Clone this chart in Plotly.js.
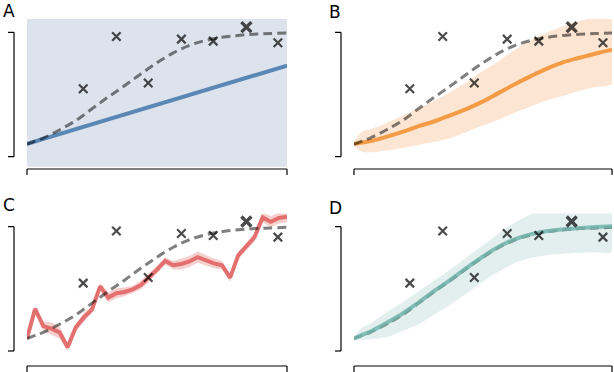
<!DOCTYPE html>
<html>
<head>
<meta charset="utf-8">
<script src="https://cdn.plot.ly/plotly-3.0.1.min.js"></script>
<style>
  html, body { margin: 0; padding: 0; background: #fff; }
  #plot { width: 614px; height: 372px; }
</style>
</head>
<body>
<div id="plot"></div>
<script>
// --- data (x: 0..8, y: 0..1 between the bracket ticks) ---
const xGrid = [0, 0.25, 0.5, 1, 1.5, 2, 2.5, 3, 3.5, 4, 4.5, 5, 5.5, 6, 6.5, 7, 7.5, 8];
const truth = [0.10, 0.125, 0.15, 0.215, 0.29, 0.385, 0.48, 0.57, 0.665, 0.755, 0.835, 0.895, 0.935, 0.96, 0.975, 0.985, 0.99, 0.995];

const xObs = [1.73, 2.75, 3.73, 4.75, 5.73, 6.75, 7.72];
const yObs = [0.546, 0.966, 0.592, 0.945, 0.929, 1.042, 0.916];
const nextIdx = 5; // the bold cross

// A: linear fit, band covers everything
const xLin = [0, 8];
const yLin = [0.104, 0.732];
const linUpper = [4, 4];
const linLower = [-4, -4];

// B: smooth fit
const smoothMean  = [0.104, 0.113, 0.125, 0.16, 0.20, 0.245, 0.285, 0.335, 0.385, 0.445, 0.515, 0.585, 0.65, 0.71, 0.76, 0.795, 0.83, 0.86];
const smoothUpper = [0.12, 0.20, 0.22, 0.27, 0.33, 0.39, 0.45, 0.52, 0.60, 0.69, 0.77, 0.86, 0.94, 1.00, 1.05, 1.09, 1.12, 1.15];
const smoothLower = [0.09, 0.04, 0.035, 0.05, 0.07, 0.095, 0.12, 0.15, 0.20, 0.25, 0.30, 0.355, 0.405, 0.455, 0.49, 0.53, 0.56, 0.59];

// C: wiggly fit
const xRed = [0, 0.25, 0.5, 0.75, 1, 1.25, 1.5, 1.75, 2, 2.25, 2.5, 2.75, 3, 3.25, 3.5, 3.75, 4,
              4.25, 4.5, 4.75, 5, 5.25, 5.5, 5.75, 6, 6.25, 6.5, 6.75, 7, 7.25, 7.5, 7.75, 8];
const redMean = [0.10, 0.34, 0.20, 0.18, 0.15, 0.03, 0.19, 0.27, 0.335, 0.52, 0.43, 0.465, 0.475, 0.495, 0.53, 0.59, 0.655,
                 0.725, 0.69, 0.70, 0.72, 0.755, 0.73, 0.705, 0.69, 0.59, 0.77, 0.84, 0.915, 1.075, 1.04, 1.07, 1.08];
const redSpread = [0.01, 0.02, 0.04, 0.05, 0.05, 0.03, 0.03, 0.035, 0.03, 0.03, 0.04, 0.04, 0.035, 0.03, 0.035, 0.035, 0.03,
                   0.03, 0.035, 0.045, 0.045, 0.045, 0.04, 0.04, 0.035, 0.03, 0.03, 0.03, 0.035, 0.04, 0.045, 0.045, 0.045];

// D: good fit
const fitMean  = [0.10, 0.13, 0.155, 0.225, 0.30, 0.39, 0.485, 0.575, 0.67, 0.76, 0.84, 0.9, 0.94, 0.965, 0.98, 0.99, 0.997, 1.003];
const fitUpper = [0.11, 0.19, 0.22, 0.31, 0.39, 0.48, 0.57, 0.66, 0.755, 0.85, 0.95, 1.035, 1.10, 1.14, 1.17, 1.19, 1.20, 1.21];
const fitLower = [0.09, 0.09, 0.095, 0.11, 0.16, 0.215, 0.295, 0.375, 0.465, 0.56, 0.64, 0.71, 0.75, 0.772, 0.782, 0.79, 0.795, 0.80];

const panelLabels = ['A', 'B', 'C', 'D'];

// --- layout helpers (pixel geometry of the 614x372 figure) ---
const W = 614, H = 372;
const YR = [-0.08, 1.107];
const panels = [
  { x0: 27,  x1: 287, tick0: 156.7, tick1: 32.3,  yBr: 14,  yAx: 169, lx: 1,   ly: -1 },
  { x0: 354, x1: 612, tick0: 156.7, tick1: 32.3,  yBr: 341, yAx: 169, lx: 327, ly: 0 },
  { x0: 27,  x1: 287, tick0: 351,   tick1: 226.7, yBr: 14,  yAx: 366, lx: 1,   ly: 193 },
  { x0: 354, x1: 612, tick0: 351,   tick1: 226.7, yBr: 341, yAx: 366, lx: 327, ly: 196 }
];
const px = v => v / W;
const py = v => 1 - v / H;

function band(x, lo, hi, color, ax, smooth) {
  return {
    x: x.concat(x.slice().reverse()),
    y: hi.concat(lo.slice().reverse()),
    fill: 'toself', fillcolor: color, mode: 'lines',
    line: { width: 0, shape: smooth ? 'spline' : 'linear', smoothing: 1 },
    hoverinfo: 'skip', showlegend: false, xaxis: 'x' + ax, yaxis: 'y' + ax
  };
}
function line(x, y, color, ax, opts) {
  opts = opts || {};
  return {
    x: x, y: y, mode: 'lines', showlegend: false, opacity: opts.opacity || 1,
    line: { color: color, width: opts.dash ? 3 : 4, dash: opts.dash || 'solid',
            shape: opts.smooth ? 'spline' : 'linear', smoothing: 1 },
    xaxis: 'x' + ax, yaxis: 'y' + ax
  };
}
function obs(ax) {
  return {
    x: xObs, y: yObs, mode: 'markers', showlegend: false, cliponaxis: false,
    marker: {
      symbol: 'x-thin', color: '#000',
      size: xObs.map((_, i) => i === nextIdx ? 10 : 8.5),
      line: { color: '#000', width: xObs.map((_, i) => i === nextIdx ? 3.4 : 2.2) }
    },
    xaxis: 'x' + ax, yaxis: 'y' + ax
  };
}
const truthStyle = { dash: '9px,5px', smooth: true };
const dashColor = 'rgba(0,0,0,0.5)';

const redUpper = redMean.map((v, i) => v + redSpread[i]);
const redLower = redMean.map((v, i) => v - redSpread[i]);

const traces = [
  // A
  band(xLin, linLower, linUpper, '#dce3ec', ''),
  line(xLin, yLin, '#5b87b5', ''),
  line(xGrid, truth, dashColor, '', truthStyle),
  obs(''),
  // B
  band(xGrid, smoothLower, smoothUpper, '#fce5d2', '2', true),
  line(xGrid, smoothMean, '#f39b45', '2', { smooth: true }),
  line(xGrid, truth, dashColor, '2', truthStyle),
  obs('2'),
  // C
  band(xRed, redLower, redUpper, '#f6cfcf', '3'),
  line(xRed, redMean, '#e36f6f', '3'),
  line(xGrid, truth, dashColor, '3', truthStyle),
  obs('3'),
  // D
  band(xGrid, fitLower, fitUpper, '#e2efee', '4', true),
  line(xGrid, truth, dashColor, '4', truthStyle),
  line(xGrid, fitMean, '#72b6ae', '4', { smooth: true, opacity: 0.85 }),
  obs('4')
];

const layout = {
  width: W, height: H,
  margin: { l: 0, r: 0, t: 0, b: 0 },
  paper_bgcolor: '#fff', plot_bgcolor: 'rgba(0,0,0,0)',
  showlegend: false,
  shapes: [], annotations: []
};
const hidden = { showgrid: false, zeroline: false, showline: false, showticklabels: false, ticks: '', fixedrange: true };

panels.forEach((p, i) => {
  const k = i === 0 ? '' : String(i + 1);
  const s = p.tick0 - p.tick1;
  const top = p.tick0 - YR[1] * s, bot = p.tick0 - YR[0] * s;
  layout['xaxis' + k] = Object.assign({}, hidden, { domain: [px(p.x0), px(p.x1)], range: [0, 8], anchor: 'y' + k });
  layout['yaxis' + k] = Object.assign({}, hidden, { domain: [py(bot), py(top)], range: YR, anchor: 'x' + k });
  const L = { color: '#000', width: 1.2 };
  // y bracket
  layout.shapes.push({ type: 'line', xref: 'paper', yref: 'y' + k, x0: px(p.yBr), x1: px(p.yBr), y0: 0, y1: 1, line: L });
  [0, 1].forEach(v => layout.shapes.push({ type: 'line', xref: 'paper', yref: 'y' + k, x0: px(p.yBr - 6), x1: px(p.yBr), y0: v, y1: v, line: L }));
  // x axis
  layout.shapes.push({ type: 'line', xref: 'paper', yref: 'paper', x0: px(p.x0), x1: px(p.x1), y0: py(p.yAx), y1: py(p.yAx), line: L });
  [p.x0, p.x1].forEach(v => layout.shapes.push({ type: 'line', xref: 'paper', yref: 'paper', x0: px(v), x1: px(v), y0: py(p.yAx), y1: py(p.yAx + 6), line: L }));
  layout.annotations.push({
    text: panelLabels[i], xref: 'paper', yref: 'paper', x: px(p.lx), y: py(p.ly),
    xanchor: 'left', yanchor: 'top', showarrow: false,
    font: { family: 'DejaVu Sans', size: 17, color: '#000' }
  });
});

Plotly.newPlot('plot', traces, layout, { staticPlot: true });
</script>
</body>
</html>
